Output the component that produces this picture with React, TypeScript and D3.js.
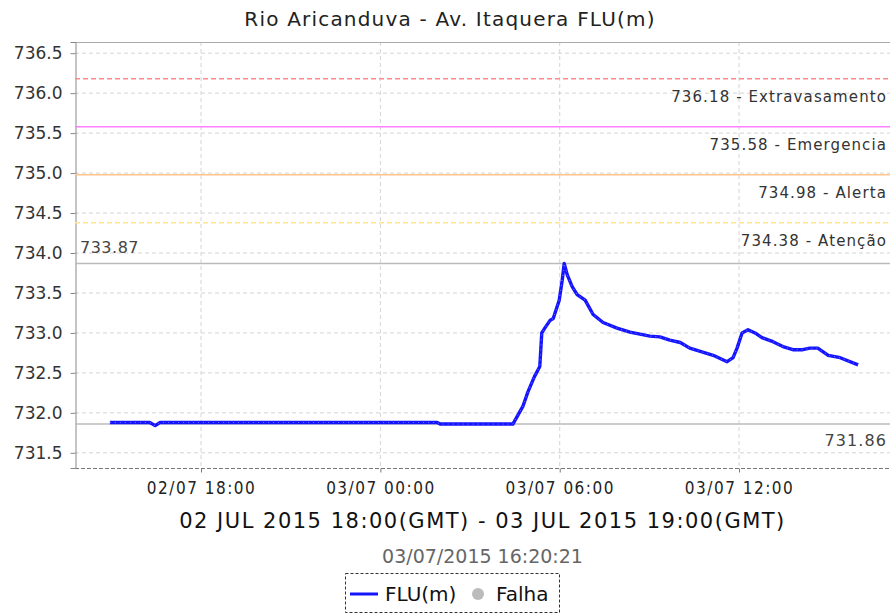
import React, { useRef, useEffect } from 'react';
import * as d3 from 'd3';

// FLU(m) readings, local time
const times = [
  '2015-07-02 14:57', '2015-07-02 16:17', '2015-07-02 16:28', '2015-07-02 16:38',
  '2015-07-03 01:54', '2015-07-03 02:00', '2015-07-03 04:26', '2015-07-03 04:46',
  '2015-07-03 04:56', '2015-07-03 05:09', '2015-07-03 05:20', '2015-07-03 05:24',
  '2015-07-03 05:30', '2015-07-03 05:41', '2015-07-03 05:47', '2015-07-03 05:59',
  '2015-07-03 06:05', '2015-07-03 06:09', '2015-07-03 06:15', '2015-07-03 06:25',
  '2015-07-03 06:35', '2015-07-03 06:51', '2015-07-03 07:07', '2015-07-03 07:27',
  '2015-07-03 07:55', '2015-07-03 08:21', '2015-07-03 09:01', '2015-07-03 09:21',
  '2015-07-03 09:41', '2015-07-03 10:02', '2015-07-03 10:21', '2015-07-03 10:47',
  '2015-07-03 11:08', '2015-07-03 11:36', '2015-07-03 11:48', '2015-07-03 11:56',
  '2015-07-03 12:06', '2015-07-03 12:18', '2015-07-03 12:32', '2015-07-03 12:46',
  '2015-07-03 13:08', '2015-07-03 13:28', '2015-07-03 13:48', '2015-07-03 14:08',
  '2015-07-03 14:22', '2015-07-03 14:38', '2015-07-03 14:59', '2015-07-03 15:23',
  '2015-07-03 15:59',
];
const levels = [
  731.88, 731.88, 731.84, 731.88,
  731.88, 731.86, 731.86, 732.08,
  732.26, 732.45, 732.58, 733.0,
  733.06, 733.16, 733.18, 733.41,
  733.66, 733.87, 733.73, 733.58,
  733.48, 733.41, 733.23, 733.13,
  733.06, 733.01, 732.96, 732.95,
  732.91, 732.88, 732.81, 732.76,
  732.72, 732.64, 732.69, 732.81,
  733.0, 733.04, 733.0, 732.94,
  732.89, 732.83, 732.79, 732.79,
  732.81, 732.81, 732.72, 732.69,
  732.6,
];

// alarm thresholds
const limitValues = [736.18, 735.58, 734.98, 734.38];
const limitNames = ['Extravasamento', 'Emergencia', 'Alerta', 'Atenção'];
const limitColors = ['#ff8c8c', '#ff80ff', '#ffc48a', '#ffe68c'];
const limitDashed = [true, false, false, true];

const maxLevel = 733.87;
const minLevel = 731.86;

const yTicks = [731.5, 732.0, 732.5, 733.0, 733.5, 734.0, 734.5, 735.0, 735.5, 736.0, 736.5];
const xTickTimes = ['2015-07-02 18:00', '2015-07-03 00:00', '2015-07-03 06:00', '2015-07-03 12:00'];
const xDomain = ['2015-07-02 13:47', '2015-07-03 17:03'];
const yDomain = [731.31, 736.64];

const title = 'Rio Aricanduva - Av. Itaquera FLU(m)';
const period = '02 JUL 2015 18:00(GMT) - 03 JUL 2015 19:00(GMT)';
const stamp = '03/07/2015 16:20:21';

function App() {
  const svgRef = useRef(null);

  useEffect(() => {
    const width = 890;
    const height = 614;
    const margin = { top: 42, right: 0, bottom: 146, left: 75 };
    const parse = d3.timeParse('%Y-%m-%d %H:%M');
    const font = 'DejaVu Sans, sans-serif';
    const cond = 'DejaVu Sans Condensed, DejaVu Sans, sans-serif';

    const svg = d3.select(svgRef.current);
    svg.selectAll('*').remove();
    svg.append('rect').attr('width', width).attr('height', height).attr('fill', '#fff');

    const x = d3.scaleTime()
      .domain(xDomain.map(d => parse(d)))
      .range([margin.left, width - margin.right]);
    const y = d3.scaleLinear()
      .domain(yDomain)
      .range([height - margin.bottom, margin.top]);

    const top = margin.top;
    const bottom = height - margin.bottom;
    const left = margin.left;
    const right = width - margin.right;

    // grid
    svg.append('g').selectAll('line').data(yTicks).join('line')
      .attr('x1', left).attr('x2', right)
      .attr('y1', d => y(d)).attr('y2', d => y(d))
      .attr('stroke', '#d4d4d4').attr('stroke-dasharray', '4,3');
    svg.append('g').selectAll('line').data(xTickTimes).join('line')
      .attr('x1', d => x(parse(d))).attr('x2', d => x(parse(d)))
      .attr('y1', top).attr('y2', bottom)
      .attr('stroke', '#d4d4d4').attr('stroke-dasharray', '4,3');

    // frame
    svg.append('line').attr('x1', left).attr('x2', right).attr('y1', top + 0.5).attr('y2', top + 0.5)
      .attr('stroke', '#aaa');
    svg.append('line').attr('x1', left).attr('x2', right).attr('y1', bottom + 0.5).attr('y2', bottom + 0.5)
      .attr('stroke', '#777').attr('stroke-dasharray', '4,2');

    // y axis
    const yAxis = svg.append('g')
      .attr('transform', `translate(${left + 0.5},0)`)
      .call(d3.axisLeft(y).tickValues(yTicks).tickFormat(d3.format('.1f')).tickSize(5).tickPadding(8));
    yAxis.select('.domain').attr('stroke', '#888');
    yAxis.selectAll('.tick line').attr('stroke', '#888');
    yAxis.selectAll('text').attr('font-family', font).attr('font-size', 17).attr('fill', '#333');

    // x axis
    const fmt = d3.timeFormat('%d/%m %H:%M');
    const xAxis = svg.append('g')
      .attr('transform', `translate(0,${bottom + 0.5})`)
      .call(d3.axisBottom(x).tickValues(xTickTimes.map(d => parse(d))).tickFormat(d => fmt(d)).tickSize(4).tickPadding(9));
    xAxis.select('.domain').remove();
    xAxis.selectAll('.tick line').attr('stroke', '#777');
    xAxis.selectAll('text').attr('font-family', cond).attr('font-size', 17)
      .attr('letter-spacing', 1.5).attr('fill', '#222');

    // threshold lines
    limitValues.forEach((v, i) => {
      svg.append('line')
        .attr('x1', left).attr('x2', right).attr('y1', y(v)).attr('y2', y(v))
        .attr('stroke', limitColors[i]).attr('stroke-width', 1.5)
        .attr('stroke-dasharray', limitDashed[i] ? '5,3' : null);
      svg.append('text')
        .attr('x', 887).attr('y', y(v) + 23)
        .attr('text-anchor', 'end')
        .attr('font-family', font).attr('font-size', 15).attr('letter-spacing', 1.1)
        .attr('fill', '#333')
        .text(`${v.toFixed(2)} - ${limitNames[i]}`);
    });

    // max / min markers
    svg.append('line').attr('x1', left).attr('x2', right).attr('y1', y(maxLevel)).attr('y2', y(maxLevel))
      .attr('stroke', '#bbb').attr('stroke-width', 1.5);
    svg.append('text').attr('x', 80).attr('y', y(maxLevel) - 10)
      .attr('font-family', font).attr('font-size', 16).attr('letter-spacing', 0.5).attr('fill', '#444')
      .text(maxLevel.toFixed(2));
    svg.append('line').attr('x1', left).attr('x2', right).attr('y1', y(minLevel)).attr('y2', y(minLevel))
      .attr('stroke', '#bbb').attr('stroke-width', 1.5);
    svg.append('text').attr('x', 887).attr('y', y(minLevel) + 22).attr('text-anchor', 'end')
      .attr('font-family', font).attr('font-size', 16).attr('letter-spacing', 1.1).attr('fill', '#444')
      .text(minLevel.toFixed(2));

    // series
    const data = times.map((t, i) => ({ t: parse(t), v: levels[i] }));
    const line = d3.line().x(d => x(d.t)).y(d => y(d.v));
    svg.append('path').datum(data)
      .attr('fill', 'none').attr('stroke', '#1414ff').attr('stroke-width', 3.4)
      .attr('stroke-linejoin', 'round').attr('d', line);
    svg.append('path').datum(data)
      .attr('fill', 'none').attr('stroke', '#fff').attr('stroke-width', 0.8).attr('stroke-opacity', 0.55)
      .attr('stroke-dasharray', '1,4').attr('d', line);

    // titles
    svg.append('text').attr('x', 450).attr('y', 26).attr('text-anchor', 'middle')
      .attr('font-family', font).attr('font-size', 20).attr('letter-spacing', 1.2)
      .attr('fill', '#222').text(title);
    svg.append('text').attr('x', (left + right) / 2).attr('y', 528).attr('text-anchor', 'middle')
      .attr('font-family', font).attr('font-size', 21).attr('letter-spacing', 1.5)
      .attr('fill', '#111').text(period);
    svg.append('text').attr('x', (left + right) / 2).attr('y', 563).attr('text-anchor', 'middle')
      .attr('font-family', font).attr('font-size', 19).attr('fill', '#666').text(stamp);

    // legend
    const lg = svg.append('g');
    lg.append('rect').attr('x', 345.5).attr('y', 573.5).attr('width', 214).attr('height', 39)
      .attr('fill', '#fff').attr('stroke', '#333').attr('stroke-dasharray', '3,2');
    lg.append('line').attr('x1', 350).attr('x2', 378).attr('y1', 594).attr('y2', 594)
      .attr('stroke', '#1414ff').attr('stroke-width', 3);
    lg.append('text').attr('x', 385).attr('y', 601).attr('font-family', font).attr('font-size', 20)
      .attr('fill', '#111').text('FLU(m)');
    lg.append('circle').attr('cx', 478).attr('cy', 594).attr('r', 6).attr('fill', '#bbb');
    lg.append('text').attr('x', 496).attr('y', 601).attr('font-family', font).attr('font-size', 20)
      .attr('fill', '#111').text('Falha');
  }, []);

  return <svg ref={svgRef} width={890} height={614} style={{ position: 'absolute', left: 0, top: 0 }} />;
}

export default App;
